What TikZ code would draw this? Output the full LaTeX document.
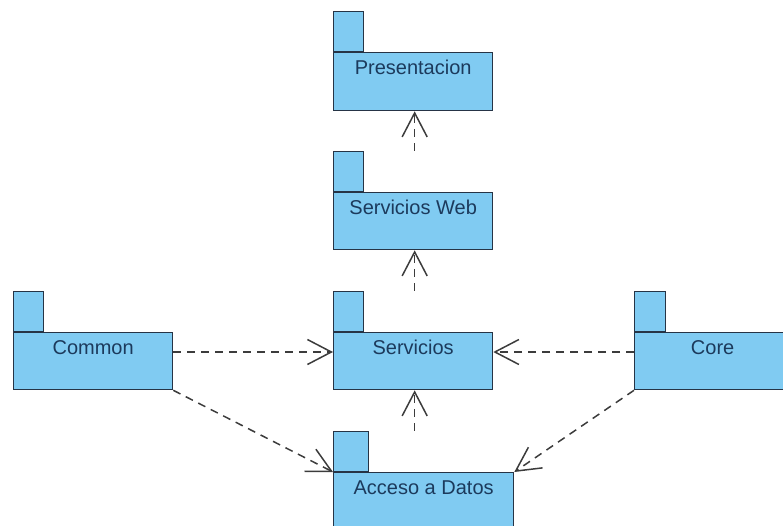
\documentclass[tikz,border=0pt]{standalone}
\usepackage{fontspec}
\setmainfont{Liberation Sans}
\usetikzlibrary{arrows.meta}

\definecolor{pkgfill}{RGB}{128,203,242}
\definecolor{pkgline}{RGB}{38,52,70}
\definecolor{pkgtext}{RGB}{28,58,92}
\definecolor{deplink}{RGB}{60,60,60}

\tikzset{
  pkgbody/.style={draw=pkgline, fill=pkgfill, line width=1.3pt,
    rectangle, inner sep=0pt, anchor=north west},
  pkgtab/.style={pkgbody, minimum width=30pt, minimum height=40pt, anchor=south west},
  pkglabel/.style={anchor=base, text=pkgtext, font=\fontsize{20}{24}\selectfont, inner sep=0pt},
  dependency/.style={draw=deplink, line width=1.5pt, dash pattern=on 8pt off 6pt,
    -{Straight Barb[length=24pt, width=25pt, line width=1.5pt]}},
}

\begin{document}
\begin{tikzpicture}[x=1pt, y=-1pt]
  \useasboundingbox (0,0) rectangle (783,526);

  % Presentacion
  \node[pkgbody, minimum width=159pt, minimum height=58pt] (pres) at (333,52) {};
  \node[pkgtab] (prestab) at (pres.north west) {};
  \node[pkglabel] at ([yshift=-23pt]pres.north) {Presentacion};

  % Servicios Web
  \node[pkgbody, minimum width=159pt, minimum height=57pt] (sweb) at (333,192) {};
  \node[pkgtab] (swebtab) at (sweb.north west) {};
  \node[pkglabel] at ([yshift=-23pt]sweb.north) {Servicios Web};

  % Servicios
  \node[pkgbody, minimum width=159pt, minimum height=57pt] (serv) at (333,332) {};
  \node[pkgtab] (servtab) at (serv.north west) {};
  \node[pkglabel] at ([yshift=-22pt]serv.north) {Servicios};

  % Common
  \node[pkgbody, minimum width=159pt, minimum height=57pt] (common) at (13,332) {};
  \node[pkgtab] (commontab) at (common.north west) {};
  \node[pkglabel] at ([yshift=-22pt]common.north) {Common};

  % Core
  \node[pkgbody, minimum width=156pt, minimum height=57pt] (core) at (634,332) {};
  \node[pkgtab, minimum width=31pt] (coretab) at (core.north west) {};
  \node[pkglabel] at ([yshift=-22pt]core.north) {Core};

  % Acceso a Datos
  \node[pkgbody, minimum width=180pt, minimum height=60pt] (acceso) at (333,472) {};
  \node[pkgtab, minimum width=35pt] (accesotab) at (acceso.north west) {};
  \node[pkglabel] at ([yshift=-22pt]acceso.north) {Acceso a Datos};

  % dependency starting points at the top of each package (tab level)
  \coordinate (swebtop) at ([xshift=1.5pt]sweb.north |- swebtab.north);
  \coordinate (servtop) at ([xshift=1.5pt]serv.north |- servtab.north);
  \coordinate (accesotop) at ([xshift=-9pt]acceso.north |- accesotab.north);

  % dependencies
  \draw[dependency] (swebtop) -- (swebtop |- pres.south);
  \draw[dependency] (servtop) -- (servtop |- sweb.south);
  \draw[dependency] (accesotop) -- (accesotop |- serv.south);
  \draw[dependency] ([yshift=-20pt]common.north east) -- ([yshift=-20pt]serv.north west);
  \draw[dependency] ([yshift=-20pt]core.north west) -- ([yshift=-20pt]serv.north east);
  \draw[dependency] (common.south east) -- (acceso.north west);
  \draw[dependency] (core.south west) -- (acceso.north east);
\end{tikzpicture}
\end{document}
